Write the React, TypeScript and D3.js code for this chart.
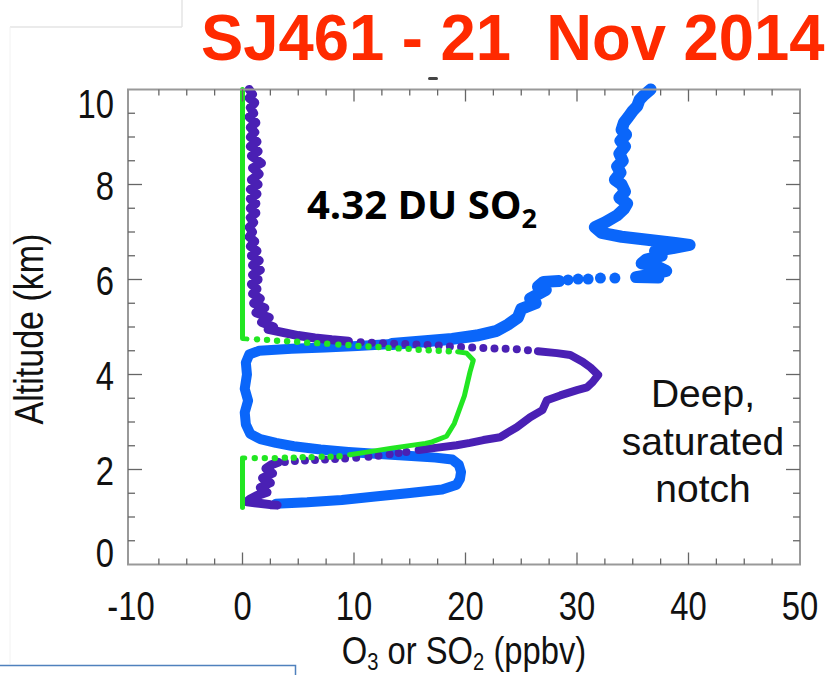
import React from 'react';
import * as d3 from 'd3';

type P = [number, number]; // [ppbv, km]

const titleText = 'SJ461 - 21  Nov 2014';
const annotation = '4.32 DU SO';
const noteLines = ['Deep,', 'saturated', 'notch'];
const xMajorTicks = [-10, 0, 10, 20, 30, 40, 50];
const yMajorTicks = [0, 2, 4, 6, 8, 10];

// ---- Green (SO2) ----
const greenUpper: P[] = [[0, 10.0], [0, 4.76], [0.4, 4.75]];
const greenDotsA: P[] = [
  [1.3, 4.74], [2.2, 4.73], [3.1, 4.71], [4.0, 4.70], [4.9, 4.69], [5.8, 4.67], [6.7, 4.66],
  [7.6, 4.65], [8.6, 4.63], [9.5, 4.62], [10.4, 4.60], [11.3, 4.59], [12.2, 4.58], [13.1, 4.56],
  [14.0, 4.55], [14.9, 4.54], [15.8, 4.52], [16.7, 4.51], [17.6, 4.50], [18.5, 4.49],
];
const greenRight: P[] = [
  [19.3, 4.48], [20.1, 4.45], [20.7, 4.30], [20.4, 4.05], [19.9, 3.55], [19.0, 2.97],
  [18.3, 2.70], [17.0, 2.58], [16.4, 2.55], [13.4, 2.45], [11.0, 2.36], [9.6, 2.31],
];
const greenDotsB: P[] = [
  [8.7, 2.28], [7.9, 2.27], [7.1, 2.27], [6.2, 2.26], [5.4, 2.26], [4.6, 2.25], [3.8, 2.25],
  [2.9, 2.24], [2.0, 2.24], [1.1, 2.24],
];
const greenLower: P[] = [[0.2, 2.24], [0, 2.24], [0, 1.2]];

// ---- Purple (O3) ----
const purpleUpper: P[] = [
  [0.6, 10.0], [0.9, 9.9], [0.6, 9.82], [1.1, 9.72], [0.7, 9.62], [1.0, 9.5], [0.6, 9.42], [1.2, 9.3],
  [0.7, 9.2], [1.1, 9.1], [0.7, 9.0], [1.3, 8.9], [0.7, 8.8], [1.4, 8.7], [0.8, 8.6], [1.7, 8.45],
  [0.9, 8.35], [1.5, 8.22], [0.8, 8.1], [1.4, 8.0], [0.7, 7.9], [1.3, 7.8], [0.7, 7.7], [1.2, 7.6],
  [0.7, 7.5], [1.2, 7.4], [0.7, 7.3], [1.0, 7.2], [0.6, 7.1], [0.9, 7.0], [0.6, 6.9], [1.1, 6.8],
  [0.7, 6.7], [1.3, 6.6], [0.8, 6.5], [1.5, 6.4], [0.9, 6.3], [1.6, 6.2], [0.9, 6.1], [1.4, 6.0],
  [0.8, 5.9], [1.3, 5.8], [0.9, 5.7], [1.6, 5.6], [1.0, 5.5], [2.0, 5.4], [1.2, 5.3], [2.4, 5.2],
  [1.7, 5.1], [2.8, 5.0], [2.3, 4.95], [3.7, 4.88], [5.0, 4.82], [6.5, 4.77], [8.0, 4.73], [9.5, 4.70],
];
const purpleDotsA: P[] = [
  [10.6, 4.68], [11.6, 4.67], [12.6, 4.66], [13.6, 4.65], [14.6, 4.64], [15.6, 4.63], [16.6, 4.62],
  [17.6, 4.61], [18.6, 4.59], [19.6, 4.58], [20.6, 4.57], [21.6, 4.56], [22.6, 4.55], [23.6, 4.54],
  [24.6, 4.53], [25.6, 4.51],
];
const purpleRight: P[] = [
  [26.5, 4.49], [28.2, 4.45], [29.4, 4.41], [30.5, 4.27], [31.2, 4.15], [31.9, 3.99], [31.4, 3.84],
  [30.9, 3.73], [30.0, 3.67], [28.5, 3.56], [27.3, 3.46], [26.9, 3.25], [25.8, 3.10], [24.6, 2.89],
  [23.1, 2.68], [21.6, 2.62], [20.4, 2.56], [19.2, 2.51], [17.5, 2.46], [15.8, 2.41],
];
const purpleDotsB: P[] = [
  [14.7, 2.37], [14.0, 2.35], [13.2, 2.32], [12.2, 2.29], [11.3, 2.27], [10.2, 2.25], [9.2, 2.23],
  [8.3, 2.22], [7.4, 2.21], [6.5, 2.20], [5.6, 2.19], [4.7, 2.18], [3.8, 2.16],
];
const purpleLower: P[] = [
  [3.2, 2.15], [2.6, 2.10], [2.1, 2.02], [2.7, 1.92], [1.8, 1.82], [2.5, 1.72], [1.6, 1.62],
  [2.2, 1.52], [1.3, 1.45], [0.7, 1.38], [0.4, 1.32], [1.5, 1.29], [2.5, 1.26], [3.1, 1.25],
];

// ---- Blue (O3) ----
const blueUpper: P[] = [
  [36.6, 10.0], [36.0, 9.88], [35.6, 9.78], [35.4, 9.65], [35.0, 9.55], [34.6, 9.42], [34.2, 9.3],
  [34.0, 9.15], [34.4, 9.05], [33.9, 8.92], [34.3, 8.8], [33.8, 8.65], [34.1, 8.5], [33.6, 8.38],
  [33.9, 8.25], [33.4, 8.1], [34.0, 8.0], [34.3, 7.85], [33.8, 7.72], [34.5, 7.6], [34.2, 7.48],
  [33.6, 7.35], [32.5, 7.2], [31.6, 7.1], [32.2, 6.98], [34.0, 6.9], [36.5, 6.83], [38.8, 6.77],
  [40.1, 6.73], [38.6, 6.66], [37.0, 6.6], [37.6, 6.5], [36.2, 6.42], [35.8, 6.34], [37.2, 6.27],
  [38.0, 6.18], [36.6, 6.1], [35.3, 6.05], [37.3, 6.04],
];
const blueDotsA: P[] = [[33.4, 6.03], [32.1, 6.03], [31.0, 6.01], [30.1, 6.01], [29.2, 5.99]];
const blueMid: P[] = [
  [28.4, 5.97], [27.0, 5.95], [26.5, 5.85], [27.2, 5.78], [25.8, 5.6], [26.3, 5.5], [25.0, 5.38],
  [24.7, 5.2], [23.8, 5.05], [22.8, 4.92], [21.0, 4.82], [18.8, 4.75], [16.4, 4.70], [13.4, 4.64],
];
const blueLower: P[] = [
  [13.4, 4.64], [10.3, 4.60], [7.4, 4.57], [4.4, 4.54], [1.5, 4.5], [0.6, 4.42], [0.3, 4.25], [0.4, 4.0],
  [0.2, 3.7], [0.5, 3.45], [0.2, 3.2], [0.3, 2.95], [0.7, 2.75], [1.6, 2.64], [3.0, 2.56],
  [4.6, 2.49], [7.0, 2.42], [9.5, 2.37], [11.9, 2.33], [14.8, 2.29], [17.3, 2.25], [18.8, 2.21],
  [19.4, 2.1], [19.6, 1.95], [19.5, 1.8], [19.2, 1.68], [17.9, 1.58], [14.8, 1.5], [11.9, 1.43],
  [8.9, 1.36], [5.8, 1.31], [3.0, 1.28],
];

const BLUE = '#0a66fa';
const PURPLE = '#4a20b4';
const GREEN = '#22e622';
const RED = '#ff2a00';

const COND = 'Liberation Sans, Arial, sans-serif';

export default function App() {
  const x = d3.scaleLinear().domain([-10, 50]).range([131, 800]);
  const y = d3.scaleLinear().domain([0, 10]).range([564.5, 89.5]);
  const line = d3.line<P>().x((d) => x(d[0])).y((d) => y(d[1]));
  const xMinor = d3.range(-10, 50.001, 2.5).filter((v) => v > -10 && v < 50);
  const yMinor = d3.range(0, 10.001, 0.5).filter((v) => v > 0 && v < 10);
  const left = x(-10) - 3;
  const right = x(50);
  const top = y(10);
  const bottom = y(0);
  const isMajorX = (v: number) => Math.abs(v % 10) < 1e-6;
  const isMajorY = (v: number) => Math.abs(v % 2) < 1e-6;

  const trace = (pts: P[], color: string, w: number) => (
    <path d={line(pts) || ''} fill="none" stroke={color} strokeWidth={w}
      strokeLinejoin="round" strokeLinecap="round" />
  );
  const dots = (pts: P[], color: string, r: number) =>
    pts.map((d, i) => <circle key={i} cx={x(d[0])} cy={y(d[1])} r={r} fill={color} />);

  return (
    <svg width={839} height={675} viewBox="0 0 839 675"
      style={{ position: 'absolute', left: 0, top: 0, background: '#fff' }}>
      <rect x={0} y={0} width={839} height={675} fill="#fff" />
      {/* faint slide artefacts */}
      <line x1={10} y1={27} x2={182} y2={27} stroke="#e4e4e4" strokeWidth={1.5} />
      <line x1={182} y1={0} x2={182} y2={27} stroke="#e4e4e4" strokeWidth={1.5} />
      <line x1={10} y1={27} x2={10} y2={664} stroke="#f2f2f2" strokeWidth={1} />
      <line x1={758} y1={0} x2={758} y2={26} stroke="#e8e8e8" strokeWidth={1.5} />
      <path d="M0,665.5 H295.5 V675" fill="none" stroke="#4f81bd" strokeWidth={1.5} />
      <rect x={428} y={77} width={10} height={3} rx={1.5} fill="#444" />

      {/* title */}
      <text transform="translate(201,60) scale(0.975,1)" fill={RED} fontFamily={COND}
        fontWeight={700} fontSize={65} style={{ whiteSpace: 'pre' }}>
        {titleText}
      </text>

      {/* data */}
      {trace(blueUpper, BLUE, 12)}
      {dots(blueDotsA, BLUE, 5.5)}
      {trace(blueMid, BLUE, 12)}
      {trace(blueLower, BLUE, 10)}

      {trace(purpleUpper, PURPLE, 9)}
      {dots(purpleDotsA, PURPLE, 4)}
      {trace(purpleRight, PURPLE, 8)}
      {dots(purpleDotsB, PURPLE, 4)}
      {trace(purpleLower, PURPLE, 9)}

      {trace(greenUpper, GREEN, 5)}
      {dots(greenDotsA, GREEN, 3.2)}
      {trace(greenRight, GREEN, 5)}
      {dots(greenDotsB, GREEN, 3.2)}
      {trace(greenLower, GREEN, 5)}

      {/* frame */}
      <rect x={left} y={top} width={right - left} height={bottom - top} fill="none"
        stroke="#999" strokeWidth={2} />
      {xMinor.map((v) => {
        const l = isMajorX(v) ? 12 : 6;
        return (
          <g key={'xt' + v}>
            <line x1={x(v)} x2={x(v)} y1={bottom} y2={bottom - l} stroke="#666" strokeWidth={1.3} />
            <line x1={x(v)} x2={x(v)} y1={top} y2={top + l} stroke="#666" strokeWidth={1.3} />
          </g>
        );
      })}
      {yMinor.map((v) => {
        const l = isMajorY(v) ? 14 : 7;
        return (
          <g key={'yt' + v}>
            <line x1={left} x2={left + l} y1={y(v)} y2={y(v)} stroke="#666" strokeWidth={1.3} />
            <line x1={right} x2={right - l} y1={y(v)} y2={y(v)} stroke="#666" strokeWidth={1.3} />
          </g>
        );
      })}

      {/* tick labels */}
      {xMajorTicks.map((v) => (
        <text key={'xl' + v} transform={`translate(${x(v)},620) scale(0.8,1)`} textAnchor="middle"
          fontFamily={COND} fontSize={41} fill="#111">{v}</text>
      ))}
      {yMajorTicks.map((v) => (
        <text key={'yl' + v}
          transform={`translate(114,${y(v) + 15 + (v === 10 ? 13 : v === 0 ? -13 : 0)}) scale(0.8,1)`}
          textAnchor="end" fontFamily={COND} fontSize={41} fill="#111">{v}</text>
      ))}

      {/* axis titles */}
      <text transform="translate(43,329) rotate(-90) scale(0.83,1)" textAnchor="middle"
        fontFamily={COND} fontSize={41} fill="#111">Altitude (km)</text>
      <text transform="translate(464,664) scale(0.84,1)" textAnchor="middle"
        fontFamily={COND} fontSize={39} fill="#111">
        O<tspan fontSize={24} dy={6}>3</tspan><tspan dy={-6}> or SO</tspan>
        <tspan fontSize={24} dy={6}>2</tspan><tspan dy={-6}> (ppbv)</tspan>
      </text>

      {/* annotations */}
      <text x={307} y={219} fontFamily="'Open Sans', sans-serif" fontWeight={700} fontSize={40}
        fill="#000">
        {annotation}<tspan fontSize={27} dy={9}>2</tspan>
      </text>
      {noteLines.map((t, i) => (
        <text key={t} x={703} y={407 + i * 47.5} textAnchor="middle"
          fontFamily="'Liberation Sans', Arial, sans-serif" fontSize={39} fill="#111">{t}</text>
      ))}
    </svg>
  );
}
